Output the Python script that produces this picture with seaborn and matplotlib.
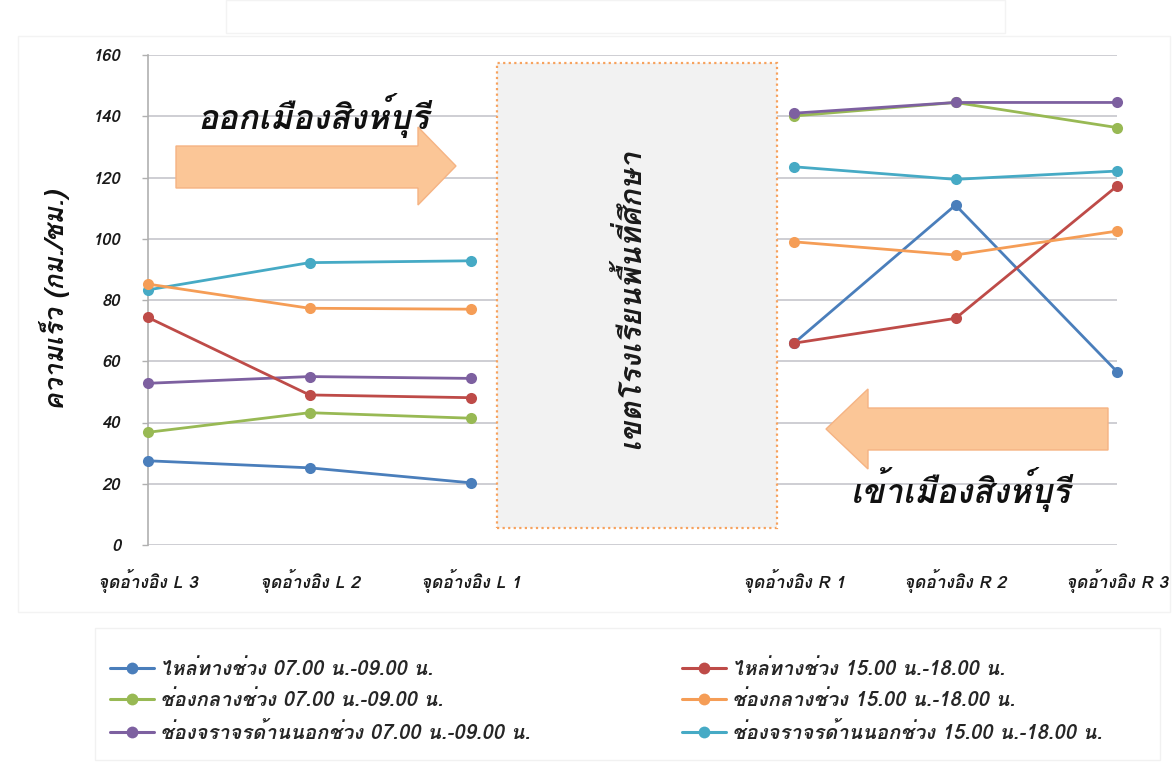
import matplotlib
matplotlib.use("Agg")
import matplotlib.pyplot as plt
import numpy as np
import pandas as pd
import seaborn as sns
from matplotlib import font_manager as fm
from matplotlib.ft2font import FT2Font
from matplotlib.patches import Rectangle, Polygon
from matplotlib.lines import Line2D

# ---------------------------------------------------------------- data
points = ["จุดอ้างอิง L 3", "จุดอ้างอิง L 2", "จุดอ้างอิง L 1", "",
          "จุดอ้างอิง R 1", "จุดอ้างอิง R 2", "จุดอ้างอิง R 3"]
measured = ["จุดอ้างอิง L 3", "จุดอ้างอิง L 2", "จุดอ้างอิง L 1",
            "จุดอ้างอิง R 1", "จุดอ้างอิง R 2", "จุดอ้างอิง R 3"]
sides = ["out", "out", "out", "in", "in", "in"]

shoulder_am = [27.5, 25.2, 20.3, 65.9, 111.0, 56.6]
middle_am = [36.8, 43.2, 41.4, 140.1, 144.5, 136.3]
outer_am = [52.8, 55.0, 54.4, 141.0, 144.5, 144.5]
shoulder_pm = [74.3, 49.0, 48.1, 65.9, 74.0, 117.2]
middle_pm = [85.2, 77.3, 77.0, 99.0, 94.7, 102.5]
outer_pm = [83.3, 92.2, 92.8, 123.5, 119.4, 122.1]

series_labels = [
    "ไหล่ทางช่วง 07.00 น.-09.00 น.",
    "ช่องกลางช่วง 07.00 น.-09.00 น.",
    "ช่องจราจรด้านนอกช่วง 07.00 น.-09.00 น.",
    "ไหล่ทางช่วง 15.00 น.-18.00 น.",
    "ช่องกลางช่วง 15.00 น.-18.00 น.",
    "ช่องจราจรด้านนอกช่วง 15.00 น.-18.00 น.",
]
series_values = [shoulder_am, middle_am, outer_am, shoulder_pm, middle_pm, outer_pm]
series_colors = ["#4A7EBB", "#98B954", "#7D60A0", "#BE4B48", "#F59D56", "#46AAC5"]
draw_order = [0, 1, 5, 2, 3, 4]

y_ticks = [0, 20, 40, 60, 80, 100, 120, 140, 160]
y_label = "ความเร็ว (กม./ชม.)"
school_zone = "เขตโรงเรียนพื้นที่ศึกษา"
outbound = "ออกเมืองสิงห์บุรี"
inbound = "เข้าเมืองสิงห์บุรี"

# ---------------------------------------------------------------- fonts
def covers_thai(path):
    try:
        return 0x0E01 in FT2Font(path).get_charmap()
    except Exception:
        return False

thai_fams = []
for entry in fm.fontManager.ttflist:
    if entry.name not in thai_fams and covers_thai(entry.fname):
        thai_fams.append(entry.name)

sns.set_theme(style="white")
plt.rcParams["font.family"] = thai_fams + ["DejaVu Sans"]
plt.rcParams["axes.unicode_minus"] = False

W, H = 1174, 762
def fx(px):
    return px / W
def fy(py):
    return 1 - py / H

# ---------------------------------------------------------------- frame
fig = plt.figure(figsize=(W / 100, H / 100), dpi=100)
fig.patch.set_facecolor("white")

# faint chart-area, title and legend outlines
fig.add_artist(Rectangle((fx(18), fy(612)), fx(1170) - fx(18), fy(36) - fy(612),
                         transform=fig.transFigure, fill=False, ec="#F3F3F3", lw=1))
fig.add_artist(Rectangle((fx(226), fy(33)), fx(1005) - fx(226), fy(0) - fy(33),
                         transform=fig.transFigure, fill=False, ec="#F3F3F3", lw=1))
fig.add_artist(Rectangle((fx(95), fy(760)), fx(1160) - fx(95), fy(628) - fy(760),
                         transform=fig.transFigure, fill=False, ec="#F1F1F1", lw=1))

ax = fig.add_axes([fx(148), fy(545), fx(1117) - fx(148), fy(55) - fy(545)])
ax.set_facecolor("white")

rows = []
for k in draw_order:
    for p, s, v in zip(measured, sides, series_values[k]):
        rows.append({"series": series_labels[k], "pos": points.index(p),
                     "side": s, "speed": v})
df = pd.DataFrame(rows)

palette = {series_labels[k]: series_colors[k] for k in range(6)}
sns.lineplot(data=df, x="pos", y="speed", hue="series", units="side",
             estimator=None, palette=palette,
             hue_order=[series_labels[k] for k in draw_order],
             marker="o", markersize=8, markeredgewidth=0, linewidth=2.0,
             legend=False, ax=ax)
for ln in ax.lines:
    ln.set_clip_on(False)
    ln.set_zorder(4)

ax.set_xlim(0, len(points) - 1)
ax.set_ylim(0, 160)
ax.set_xlabel("")
ax.set_ylabel("")

tick_pos = [points.index(p) for p in measured]
ax.set_xticks(tick_pos)
ax.set_xticklabels(measured)
ax.set_yticks(y_ticks)
ax.set_yticklabels([str(t) for t in y_ticks])
ax.tick_params(axis="x", length=0, pad=17, labelsize=12.5, labelcolor="#1A1A1A")
ax.tick_params(axis="y", length=4, width=1, color="#B0B0B0", direction="out",
               pad=16, labelsize=12, labelcolor="#1A1A1A", left=True)
for lab in ax.get_xticklabels() + ax.get_yticklabels():
    lab.set_fontweight("bold")
    lab.set_fontstyle("italic")

ax.yaxis.grid(True, color="#C6C6CC", lw=1.2, zorder=0)
ax.xaxis.grid(False)
ax.set_axisbelow(True)
for side in ["top", "right", "bottom"]:
    ax.spines[side].set_visible(False)
ax.spines["left"].set_color("#B0B0B0")
ax.spines["left"].set_linewidth(1.2)

# school zone block in the gap between the two groups
gap = points.index("")
zone_lo, zone_hi = gap - 0.84, gap + 0.895
ax.add_patch(Rectangle((zone_lo, 5.5), zone_hi - zone_lo, 151.9,
                       facecolor="#F2F2F2", edgecolor="#F7A25E", lw=1.6,
                       linestyle=(0, (1, 1.5)), zorder=3))
ax.text((zone_lo + zone_hi) / 2 - 0.05, 80.5, school_zone, rotation=90,
        ha="center", va="center", fontsize=22, fontweight="bold",
        fontstyle="italic", color="#1A1A1A", zorder=5)

# direction arrows
arrow_kw = dict(transform=fig.transFigure, facecolor="#FBC697",
                edgecolor="#F5B383", lw=1, zorder=3)
right_arrow = [(176, 146), (418, 146), (418, 127), (456, 166),
               (418, 205), (418, 188), (176, 188)]
left_arrow = [(1108, 408), (868, 408), (868, 389), (826, 429),
              (868, 469), (868, 450), (1108, 450)]
fig.add_artist(Polygon([(fx(a), fy(b)) for a, b in right_arrow], **arrow_kw))
fig.add_artist(Polygon([(fx(a), fy(b)) for a, b in left_arrow], **arrow_kw))

fig.text(fx(313), fy(116), outbound, ha="center", va="center", fontsize=24.5,
         fontweight="bold", fontstyle="italic", color="#111111", zorder=6)
fig.text(fx(961), fy(489), inbound, ha="center", va="center", fontsize=24,
         fontweight="bold", fontstyle="italic", color="#111111", zorder=6)

fig.text(fx(55), fy(300), y_label, rotation=90, ha="center", va="center",
         fontsize=19, fontweight="bold", fontstyle="italic", color="#111111")

# legend, two columns
def handle(k):
    return Line2D([], [], color=series_colors[k], lw=2.2, marker="o",
                  markersize=8.5, markeredgewidth=0)

leg_kw = dict(frameon=False, loc="upper left", borderpad=0, borderaxespad=0,
              handlelength=2.2, handletextpad=0.3, labelspacing=0.58,
              prop={"size": 14.5, "weight": "bold", "style": "italic"})
fig.legend([handle(k) for k in range(3)], series_labels[:3],
           bbox_to_anchor=(fx(110), fy(659)), **leg_kw)
fig.legend([handle(k) for k in range(3, 6)], series_labels[3:],
           bbox_to_anchor=(fx(682), fy(659)), **leg_kw)

fig.savefig("out.png", dpi=100, facecolor="white")
